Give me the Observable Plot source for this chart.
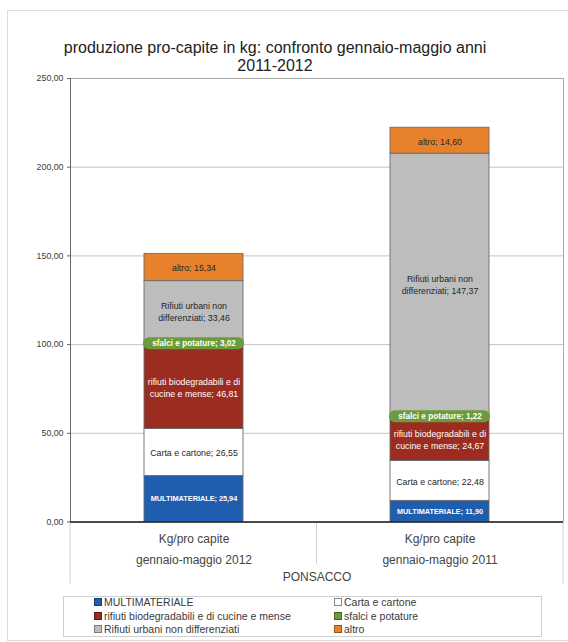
<!DOCTYPE html>
<html>
<head>
<meta charset="utf-8">
<script src="https://cdn.jsdelivr.net/npm/d3@7"></script>
<script src="https://cdn.jsdelivr.net/npm/@observablehq/plot@0.6"></script>
<style>
  html, body { margin: 0; padding: 0; background: #fff; }
  #wrap { position: relative; width: 568px; height: 642px; overflow: hidden; font-family: "Liberation Sans", Arial, sans-serif; }
  #outer { position: absolute; left: 7px; top: 10px; width: 580px; height: 629px; border: 1px solid #dcdcdc; }
  #title { position: absolute; left: 0; top: 39px; width: 550px; text-align: center; font-size: 16px; line-height: 18px; color: #222; }
  #chart { position: absolute; left: 0; top: 0; }
  #legend { position: absolute; left: 63px; top: 596px; width: 477px; height: 39px; border: 1px solid #cfcfcf; background: #fff; }
  .item { position: absolute; font-size: 10.5px; line-height: 13px; color: #3a3a3a; white-space: nowrap; }
  .sw { display: inline-block; width: 6px; height: 6px; border: 1px solid #555; margin-right: 2px; vertical-align: 0px; }
</style>
</head>
<body>
<div id="wrap">
  <div id="outer"></div>
  <div id="chart"></div>
  <div id="title">produzione pro-capite in kg: confronto gennaio-maggio anni<br>2011-2012</div>
  <div id="legend"></div>
</div>
<script>
const categories = ["gennaio-maggio 2012", "gennaio-maggio 2011"];
const types = [
  "MULTIMATERIALE",
  "Carta e cartone",
  "rifiuti biodegradabili e di cucine e mense",
  "sfalci e potature",
  "Rifiuti urbani non differenziati",
  "altro"
];
const labelNames = [
  "MULTIMATERIALE",
  "Carta e cartone",
  "rifiuti biodegradabili e di\ncucine e mense",
  "sfalci e potature",
  "Rifiuti urbani non\ndifferenziati",
  "altro"
];
const values2012 = [25.94, 26.55, 46.81, 3.02, 33.46, 15.34];
const values2011 = [11.90, 22.48, 24.67, 1.22, 147.37, 14.60];
const colors = ["#1f5eae", "#ffffff", "#9c2b20", "#6b9b3b", "#bdbdbd", "#e8812c"];
const yTicks = [0, 50, 100, 150, 200, 250];
const groupLabel = "PONSACCO";
const axisPrefix = "Kg/pro capite";

const seriesValues = [values2012, values2011];
const rows = categories.flatMap((c, i) =>
  types.map((t, j) => ({category: c, type: t, idx: j, value: seriesValues[i][j]}))
);
const fmt = v => v.toFixed(2).replace(".", ",");
const lab = d => `${labelNames[d.idx]}; ${fmt(d.value)}`;
const only = ids => d => ids.includes(d.idx) ? lab(d) : null;

const dividers = (index, scales, values, dims) => {
  const {marginLeft, marginRight, marginBottom, width, height} = dims;
  const g = d3.create("svg:g").attr("stroke", "#cfcfcf").attr("stroke-width", 1);
  const y0 = height - marginBottom;
  const xl = marginLeft, xr = width - marginRight, xm = (xl + xr) / 2;
  g.append("line").attr("x1", xl).attr("x2", xl).attr("y1", y0).attr("y2", y0 + 62);
  g.append("line").attr("x1", xm).attr("x2", xm).attr("y1", y0).attr("y2", y0 + 42);
  g.append("line").attr("x1", xr).attr("x2", xr).attr("y1", y0).attr("y2", y0 + 62);
  return g.node();
};

const chart = Plot.plot({
  width: 568,
  height: 642,
  marginTop: 78,
  marginBottom: 120.5,
  marginLeft: 70,
  marginRight: 5,
  style: {fontFamily: "Liberation Sans, Arial, sans-serif", fontSize: "9px", color: "#333", background: "transparent"},
  x: {domain: categories, paddingInner: 0.598, paddingOuter: 0.299, axis: null},
  y: {domain: [0, 250], axis: null},
  color: {domain: types, range: colors},
  opacity: {domain: [0, 1], range: [0, 1]},
  marks: [
    Plot.gridY(yTicks, {stroke: "#c4c4c4", strokeOpacity: 1}),
    Plot.frame({stroke: "#a8a8a8"}),
    Plot.frame({anchor: "left", stroke: "#666"}),
    dividers,
    Plot.axisY({ticks: yTicks, tickFormat: fmt, tickSize: 3, tickPadding: 4, fontSize: 8.8, label: null, stroke: "#666", fill: "#3a3a3a"}),
    Plot.barY(rows, {x: "category", y: "value", fill: "type", stroke: "#6c6c6c", strokeWidth: 0.9}),
    Plot.ruleY([0], {stroke: "#222", strokeWidth: 1.6}),
    Plot.text(rows, Plot.stackY({x: "category", y: "value", text: only([0]), fill: "white", fontSize: 7.3, fontWeight: "bold"})),
    Plot.text(rows, Plot.stackY({x: "category", y: "value", text: only([1, 4, 5]), fill: "#262626", fontSize: 8.8, lineHeight: 1.35})),
    Plot.text(rows, Plot.stackY({x: "category", y: "value", text: only([2]), fill: "white", fontSize: 8.8, lineHeight: 1.35})),
    Plot.tickY(rows, Plot.stackY({x: "category", y: "value", stroke: "type", strokeOpacity: d => d.idx === 3 ? 1 : 0, strokeWidth: 12, strokeLinecap: "round", insetLeft: 5, insetRight: 5})),
    Plot.text(rows, Plot.stackY({x: "category", y: "value", text: only([3]), fill: "white", fontSize: 8.2, fontWeight: "bold"})),
    Plot.text(categories, {x: d => d, text: d => `${axisPrefix}\n${d}`, frameAnchor: "bottom", lineAnchor: "top", dy: 5.5, lineHeight: 1.8, fontSize: 12, fill: "#444"}),
    Plot.text([groupLabel], {text: d => d, frameAnchor: "bottom", dy: 59, fontSize: 12, fill: "#444"})
  ]
});
document.getElementById("chart").appendChild(chart);

const legendPos = [
  [30, -1], [270, -1],
  [30, 12.5], [270, 12.5],
  [30, 26], [270, 26]
];
const legend = document.getElementById("legend");
types.forEach((t, j) => {
  const el = document.createElement("div");
  el.className = "item";
  el.style.left = legendPos[j][0] + "px";
  el.style.top = legendPos[j][1] + "px";
  const sw = document.createElement("span");
  sw.className = "sw";
  sw.style.background = colors[j];
  sw.style.borderColor = j === 1 ? "#888" : d3.color(colors[j]).darker(1.2);
  el.appendChild(sw);
  el.appendChild(document.createTextNode(t));
  legend.appendChild(el);
});
</script>
</body>
</html>
